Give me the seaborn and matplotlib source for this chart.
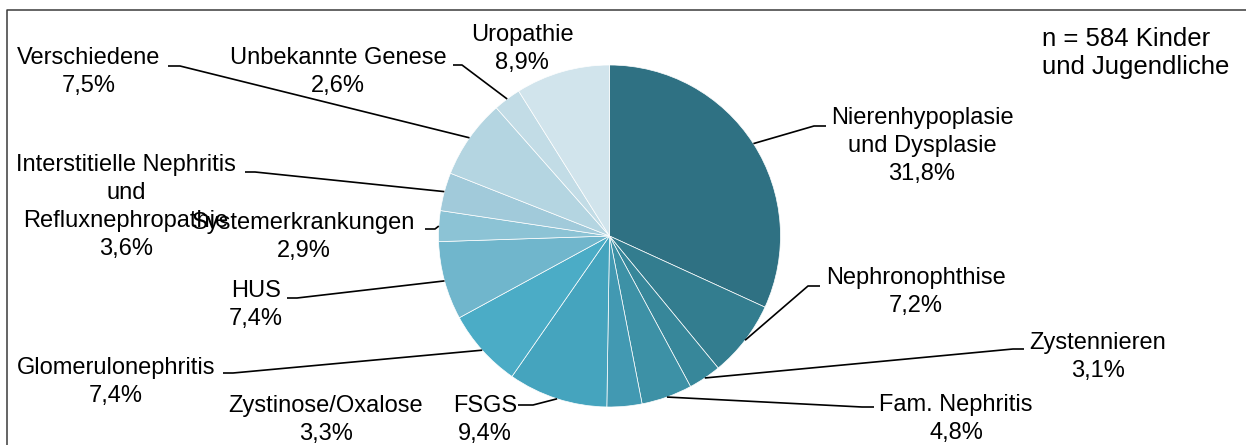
import numpy as np
import matplotlib
matplotlib.use("Agg")
import matplotlib.pyplot as plt
import seaborn as sns

# ---------------- data ----------------
categories = [
    "Nierenhypoplasie\nund Dysplasie",
    "Nephronophthise",
    "Zystennieren",
    "Fam. Nephritis",
    "Zystinose/Oxalose",
    "FSGS",
    "Glomerulonephritis",
    "HUS",
    "Systemerkrankungen",
    "Interstitielle Nephritis\nund\nRefluxnephropathie",
    "Verschiedene",
    "Unbekannte Genese",
    "Uropathie",
]
shares = [31.8, 7.2, 3.1, 4.8, 3.3, 9.4, 7.4, 7.4, 2.9, 3.6, 7.5, 2.6, 8.9]
note = "n = 584 Kinder\nund Jugendliche"

slice_colors = [
    "#2F7183", "#337D8F", "#37879A", "#3D91A6", "#4299B2", "#45A4BE",
    "#4BACC6", "#70B6CC", "#8CC3D5", "#A1CADA", "#B4D5E1", "#C2DCE6",
    "#D1E4EC",
]

# ---------------- layout (pixel coords, y from top) ----------------
W, H = 1246, 445
pie_center_px = (609.5, 236.0)
pie_radius_px = 171.0

# label block centres
label_pos = [
    (922, 146), (916, 292), (1098, 357), (956, 419), (326, 420), (485, 420),
    (116, 382), (256, 305), (304, 237), (126, 207), (89, 72), (338, 72),
    (522, 49),
]
# leader line: elbow point, end point (None = no leader)
leader_pts = [
    [(814, 126), (826, 126)],
    [(808, 286), (820, 286)],
    [(1013, 349), (1024, 349)],
    [(862, 407), (874, 407)],
    None,
    [(533, 405), (518, 405)],
    [(233, 373), (223, 373)],
    [(297, 298), (287, 298)],
    [(435, 229), (425, 229)],
    [(255, 172), (245, 172)],
    [(180, 66), (168, 66)],
    [(462, 65), (453, 65)],
    None,
]

sns.set_theme(style="white")
plt.rcParams["font.family"] = ["Liberation Sans", "DejaVu Sans"]

palette = sns.color_palette(slice_colors)

fig = plt.figure(figsize=(W / 100, H / 100), dpi=100)
ax = fig.add_axes([0, 0, 1, 1])


def P(x, y):
    return (x, H - y)


cx, cy = P(*pie_center_px)
wedges, _ = ax.pie(
    shares,
    colors=palette,
    startangle=90,
    counterclock=False,
    center=(cx, cy),
    radius=pie_radius_px,
    wedgeprops=dict(edgecolor="white", linewidth=0.5),
)
ax.set_xlim(0, W)
ax.set_ylim(0, H)
ax.set_aspect("equal")
ax.axis("off")

fs = 17
for w, cat, val, pos, lp in zip(wedges, categories, shares, label_pos, leader_pts):
    txt = f"{cat}\n" + f"{val:.1f}".replace(".", ",") + "%"
    tx, ty = P(*pos)
    ax.text(tx, ty, txt, ha="center", va="center", fontsize=fs,
            linespacing=1.35, color="black", zorder=5)
    if lp is not None:
        mid = np.deg2rad((w.theta1 + w.theta2) / 2)
        ax_x = cx + pie_radius_px * np.cos(mid)
        ax_y = cy + pie_radius_px * np.sin(mid)
        xs = [ax_x] + [p[0] for p in lp]
        ys = [ax_y] + [H - p[1] for p in lp]
        ax.plot(xs, ys, color="black", lw=1.2, solid_capstyle="butt", zorder=4)

nx, ny = P(1042, 53)
ax.text(nx, ny, note, ha="left", va="center", fontsize=18.5, linespacing=1.25,
        color="black")

# chart frame (left and top edges visible)
ax.plot([7, 7, W + 5], [-5, H - 10, H - 10], color="#3a3a3a", lw=1.1,
        clip_on=False)

fig.savefig("out.png", dpi=100)
